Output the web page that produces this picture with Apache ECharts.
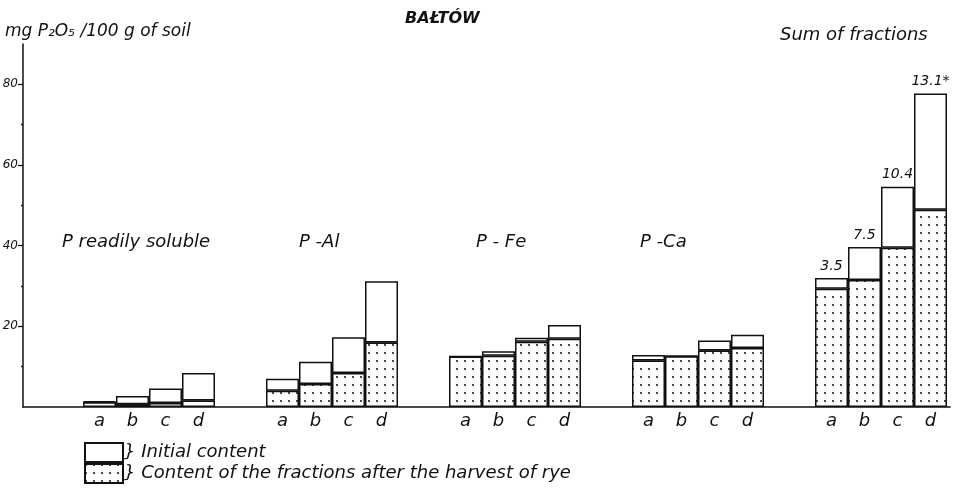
<!DOCTYPE html>
<html>
  <head>
    <meta charset="utf-8" />
    <title>BAŁTÓW</title>
    <script src="https://cdn.jsdelivr.net/npm/echarts@6/dist/echarts.min.js"></script>
  </head>
  <body style="margin: 0; background: #fff">
    <div id="main" style="width: 964px; height: 500px"></div>
  </body>

  <script>
    var myChart = echarts.init(document.getElementById("main"));

    // data (mg P2O5 / 100 g of soil)
    var fractions = ["P readily soluble", "P-Al", "P-Fe", "P-Ca", "Sum of fractions"];
    var letters = ["a", "b", "c", "d"];
    // initial content (full bar height), one list per fraction, a..d
    var initReady = [1.4, 2.7, 4.6, 8.4];
    var initAl = [7.0, 11.2, 17.3, 31.2];
    var initFe = [12.5, 13.8, 17.2, 20.3];
    var initCa = [12.9, 12.7, 16.5, 17.9];
    var initSum = [32.0, 39.7, 54.6, 77.7];
    // content after the harvest of rye (dotted part)
    var afterReady = [1.2, 0.7, 1.0, 1.6];
    var afterAl = [4.0, 5.7, 8.4, 16.0];
    var afterFe = [12.5, 12.7, 16.2, 16.9];
    var afterCa = [11.5, 12.6, 14.0, 14.6];
    var afterSum = [29.3, 31.5, 39.5, 48.9];
    var sumLabels = ["3.5", "7.5", "10.4", "13.1*"];
    var yTicks = [20, 40, 60, 80];
    var yMinorTicks = [10, 30, 50, 70];

    var initAll = [initReady, initAl, initFe, initCa, initSum];
    var afterAll = [afterReady, afterAl, afterFe, afterCa, afterSum];

    var FONT = '"DejaVu Sans"';
    var dots = {
      symbol: "circle",
      symbolSize: 1,
      dashArrayX: [2, 6],
      dashArrayY: [2, 6],
      color: "#111",
      backgroundColor: "#fff",
    };

    var series = [];
    letters.forEach(function (letter, i) {
      series.push({
        name: "Content of the fractions after the harvest of rye",
        type: "bar",
        xAxisIndex: 1,
        yAxisIndex: 1,
        stack: "s" + i,
        barWidth: 33,
        barGap: "0%",
        itemStyle: { color: "#fff", borderColor: "#111", borderWidth: 1.5, decal: dots },
        label: {
          show: true,
          position: "bottom",
          distance: 5,
          formatter: letter,
          fontFamily: FONT,
          fontStyle: "italic",
          fontSize: 18,
          color: "#111",
        },
        data: afterAll.map(function (arr) {
          return arr[i];
        }),
      });
      series.push({
        name: "Initial content",
        type: "bar",
        xAxisIndex: 1,
        yAxisIndex: 1,
        stack: "s" + i,
        barWidth: 33,
        barGap: "0%",
        itemStyle: { color: "#fff", borderColor: "#111", borderWidth: 1.5 },
        label: {
          show: true,
          position: "top",
          distance: 5,
          fontFamily: FONT,
          fontStyle: "italic",
          fontSize: 14,
          color: "#111",
          formatter: function (p) {
            return p.dataIndex === 4 ? sumLabels[i] : "";
          },
        },
        data: initAll.map(function (arr, g) {
          return +(arr[i] - afterAll[g][i]).toFixed(2);
        }),
      });
    });

    var txt = function (text, left, top, size, weight) {
      return {
        type: "text",
        left: left,
        top: top,
        style: {
          text: text,
          font: "italic " + (weight || "normal") + " " + size + "px " + FONT,
          fill: "#111",
        },
      };
    };

    option = {
      backgroundColor: "#fff",
      animation: false,
      grid: [
        { left: 23, right: 14, top: 44, bottom: 93, outerBoundsMode: "none" },
        { left: 57.5, right: -8.5, top: 44, bottom: 93, outerBoundsMode: "none" },
      ],
      xAxis: [
        {
          type: "value",
          gridIndex: 0,
          min: 0,
          max: 1,
          axisLine: { show: true, lineStyle: { color: "#111", width: 1.5 } },
          axisTick: { show: false },
          axisLabel: { show: false },
          splitLine: { show: false },
        },
        {
          type: "category",
          gridIndex: 1,
          data: fractions,
          show: false,
        },
      ],
      yAxis: [
        {
          type: "value",
          gridIndex: 0,
          min: 0,
          max: 90,
          interval: 10,
          axisLine: { show: true, lineStyle: { color: "#111", width: 1.5 } },
          axisTick: { show: true, customValues: yTicks, length: 5, lineStyle: { color: "#111", width: 1.3 } },
          axisLabel: {
            customValues: yTicks,
            margin: 5,
            fontFamily: FONT,
            fontStyle: "italic",
            fontSize: 12,
            color: "#111",
          },
          splitLine: { show: false },
        },
        {
          type: "value",
          gridIndex: 1,
          min: 0,
          max: 90,
          interval: 10,
          offset: 34.5,
          axisLine: { show: false },
          axisTick: { show: true, customValues: yMinorTicks, length: 2, lineStyle: { color: "#111", width: 1.3 } },
          axisLabel: { show: false },
          splitLine: { show: false },
        },
      ],
      legend: {
        orient: "vertical",
        left: 84,
        top: 442,
        padding: 0,
        itemWidth: 38,
        itemHeight: 19,
        itemGap: 0,
        icon: "rect",
        data: ["Initial content", "Content of the fractions after the harvest of rye"],
        formatter: function (name) {
          return "} " + name;
        },
        textStyle: {
          fontFamily: FONT,
          fontStyle: "italic",
          fontSize: 18,
          color: "#111",
          padding: [0, 0, 0, -4],
        },
        selectedMode: false,
      },
      graphic: [
        txt("mg P₂O₅ /100 g of soil", 5, 23, 17),
        txt("BAŁTÓW", 405, 11, 16, "bold"),
        txt("Sum of fractions", 780, 26, 18),
        txt(fractions[0], 62, 233, 18),
        txt("P -Al", 299, 233, 18),
        txt("P - Fe", 476, 233, 18),
        txt("P -Ca", 640, 233, 18),
      ],
      series: series,
    };

    myChart.setOption(option);
  </script>
</html>
